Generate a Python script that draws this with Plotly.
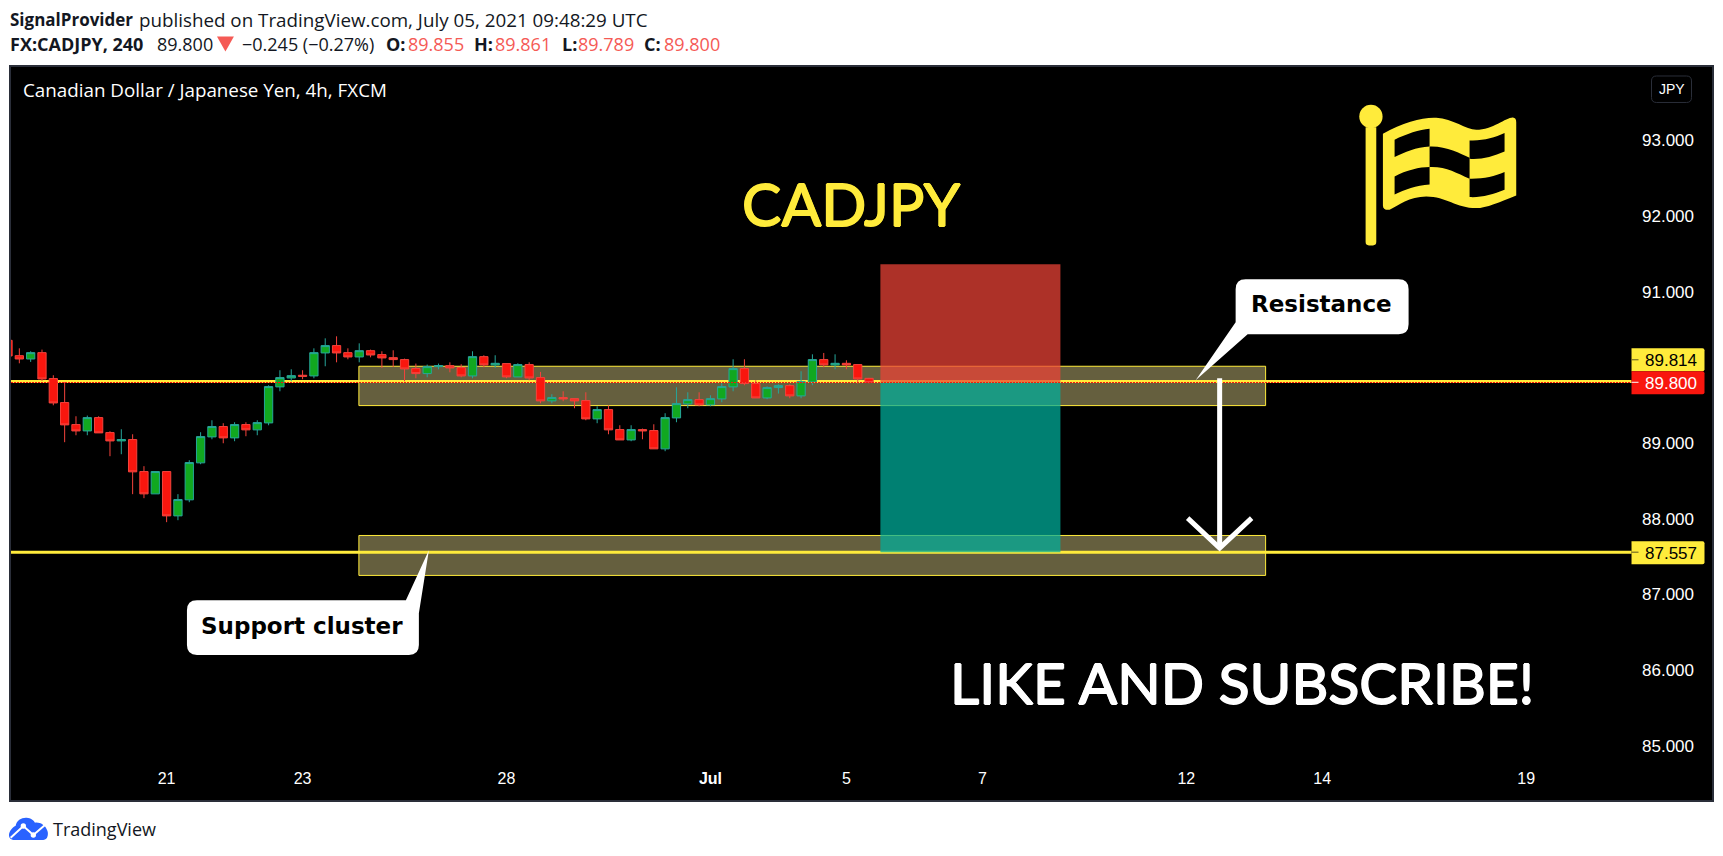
import re
import plotly.graph_objects as go

W, H = 1723, 856
L, R, T, B = 11, 1712.5, 66.5, 800

candle_index = list(range(77))
opens = [90.358,90.155,90.111,90.195,89.852,89.535,89.244,89.160,89.336,89.138,89.028,89.046,88.623,88.328,88.623,88.037,88.249,88.738,89.081,89.218,
         89.068,89.244,89.174,89.266,89.742,89.860,89.896,89.887,90.191,90.288,90.195,90.138,90.221,90.169,90.129,90.103,89.984,89.918,90.010,90.023,
         89.997,89.887,90.142,90.032,90.050,89.874,90.037,89.865,89.557,89.601,89.587,89.561,89.319,89.442,89.178,89.041,89.178,89.165,88.923,89.332,
         89.517,89.574,89.504,89.583,89.742,89.984,89.786,89.596,89.733,89.759,89.623,89.808,90.103,90.032,90.054,90.037,89.855]
highs = [90.380,90.252,90.213,90.235,89.896,89.808,89.354,89.363,89.354,89.156,89.182,89.116,88.694,88.623,88.623,88.324,88.773,89.143,89.301,89.262,
         89.275,89.275,89.301,89.764,89.962,89.975,89.962,90.252,90.384,90.411,90.252,90.318,90.235,90.213,90.226,90.116,90.050,90.037,90.050,90.067,
         90.041,90.213,90.160,90.160,90.050,90.054,90.067,89.940,89.645,89.684,89.587,89.671,89.486,89.499,89.235,89.235,89.191,89.248,89.394,89.737,
         89.671,89.671,89.631,89.790,90.107,90.107,89.830,89.750,89.777,89.777,89.949,90.173,90.191,90.173,90.094,90.037,89.861]
lows = [90.138,90.054,90.072,89.821,89.499,89.011,89.103,89.103,89.134,88.826,88.852,88.324,88.271,88.328,87.954,87.980,88.218,88.720,89.050,88.997,
        89.024,89.090,89.103,89.235,89.684,89.816,89.843,89.856,90.015,90.067,90.107,90.067,90.133,89.993,90.006,89.816,89.856,89.869,89.975,89.935,
        89.869,89.856,90.001,89.993,89.856,89.874,89.830,89.526,89.526,89.552,89.460,89.301,89.262,89.116,89.041,89.024,89.050,88.923,88.892,89.275,
        89.460,89.486,89.486,89.539,89.684,89.764,89.596,89.579,89.654,89.592,89.592,89.764,90.001,89.975,89.975,89.786,89.789]
closes = [90.151,90.111,90.195,89.847,89.530,89.240,89.160,89.336,89.134,89.028,89.046,88.619,88.328,88.623,88.037,88.253,88.742,89.085,89.218,89.068,
          89.244,89.174,89.270,89.746,89.865,89.891,89.882,90.195,90.288,90.191,90.138,90.221,90.164,90.125,90.103,89.979,89.918,90.010,90.023,89.993,
          89.887,90.142,90.032,90.054,89.874,90.037,89.860,89.557,89.601,89.583,89.557,89.319,89.442,89.174,89.041,89.178,89.160,88.923,89.336,89.521,
          89.574,89.504,89.587,89.746,89.984,89.786,89.596,89.733,89.759,89.623,89.812,90.103,90.032,90.054,90.032,89.847,89.800]

x_tick_pos = [14, 26, 44, 62, 74, 86, 104, 116, 134]
x_tick_text = ["21", "23", "28", "<b>Jul</b>", "5", "7", "12", "14", "19"]
y_tick_vals = [85, 86, 87, 88, 89, 91, 92, 93]

resistance_line = 89.814
last_price = 89.800
target_line = 87.557
stop_level = 91.362
band_top = (89.495, 90.015)
band_bottom = (87.250, 87.778)
zone_x = (77.0, 92.89)
band_x = (30.97, 111.0)
x_range = [0.265, 150.4]
y_range = [84.281, 93.971]

YEL = "#FFEB3B"
RED = "#F9160E"


def px(x):
    return (x - L) / (R - L)


def py(y):
    return (B - y) / (B - T)


def ix(x):
    return 1 + (x - 19.33) / 11.333


def path(s, ox=0.0, oy=0.0, k=1.0):
    """Turn a pixel-space path into a paper-space path."""
    count = [0]

    def rep(m):
        v = float(m.group(0))
        i = count[0]
        count[0] += 1
        if i % 2 == 0:
            return f"{px(ox + v / k):.5f}"
        return f"{py(oy + v / k):.5f}"

    return re.sub(r"-?\d+\.?\d*", rep, s)


shapes = []


def paper_shape(d, fill=None, line=None, lw=0):
    shapes.append(dict(type="path", xref="paper", yref="paper", path=d, fillcolor=fill,
                       line=dict(color=line or "rgba(0,0,0,0)", width=lw), layer="above"))


def band(lo, hi):
    shapes.append(dict(type="rect", xref="x", yref="y", x0=band_x[0], x1=band_x[1], y0=lo, y1=hi,
                       fillcolor="#655F3E", line=dict(color=YEL, width=1), layer="below"))


band(*band_top)
band(*band_bottom)
line_end = ix(1632)
for lev in (resistance_line, target_line):
    shapes.append(dict(type="line", xref="x", yref="y", x0=x_range[0], x1=line_end, y0=lev, y1=lev,
                       line=dict(color=YEL, width=3), layer="below"))
# risk / reward zones
shapes.append(dict(type="rect", xref="x", yref="y", x0=zone_x[0], x1=zone_x[1], y0=last_price, y1=stop_level,
                   fillcolor="rgb(237,67,55)", opacity=0.73, line=dict(width=0), layer="above"))
shapes.append(dict(type="rect", xref="x", yref="y", x0=zone_x[0], x1=zone_x[1], y0=target_line, y1=last_price,
                   fillcolor="rgb(0,175,156)", opacity=0.73, line=dict(width=0), layer="above"))
shapes.append(dict(type="line", xref="x", yref="y", x0=x_range[0], x1=line_end, y0=last_price, y1=last_price,
                   line=dict(color=RED, width=1, dash="2px,1px"), layer="above"))

# arrow
paper_shape(path("M1220 378 L1220 546"), line="#FFFFFF", lw=5)
paper_shape(path("M1188 518 L1220 548 L1252 518"), line="#FFFFFF", lw=5)

# callouts
paper_shape(path("M1246 279 L1399 279 Q1409 279 1409 289 L1409 324 Q1409 334 1399 334 L1248 334 L1196 380 L1236 322 L1236 289 Q1236 279 1246 279 Z"), fill="#FFFFFF")
paper_shape(path("M197 600 L406 600 L429 550 L419 613 L419 645 Q419 655 409 655 L197 655 Q187 655 187 645 L187 610 Q187 600 197 600 Z"), fill="#FFFFFF")

# price labels
for y0, y1, col in ((348, 371, YEL), (371, 394, RED), (541, 564, YEL)):
    paper_shape(path(f"M1632 {y0} L1703 {y0} Q1705 {y0} 1705 {y0+2} L1705 {y1-2} Q1705 {y1} 1703 {y1} L1632 {y1} Z"), fill=col)
for yy, col in ((359.5, "#5a5420"), (382, "#FFFFFF"), (552, "#5a5420")):
    paper_shape(path(f"M1632 {yy} L1639 {yy}"), line=col, lw=1)

# JPY button
paper_shape(path("M1657 75.5 L1687 75.5 Q1692 75.5 1692 80.5 L1692 97 Q1692 102 1687 102 L1657 102 Q1652 102 1652 97 L1652 80.5 Q1652 75.5 1657 75.5 Z"), line="#2A2E39", lw=1)

# flag
F = dict(ox=1340, oy=70, k=3)
paper_shape(path("M78 170 L110 170 L110 515 Q110 525 100 525 L88 525 Q78 525 78 515 Z", **F), fill=YEL)
shapes.append(dict(type="circle", xref="paper", yref="paper", x0=px(1340 + 59 / 3), x1=px(1340 + 129 / 3),
                   y0=py(70 + 173 / 3), y1=py(70 + 103 / 3), fillcolor=YEL, line=dict(width=0), layer="above"))
paper_shape(path("M130 190 C190 155 250 140 290 142 C340 145 380 178 410 178 C460 178 500 140 520 141 Q530 142 530 155 L530 375 C480 395 440 413 410 413 C350 413 320 378 260 378 C210 378 175 405 150 418 Q130 420 130 405 Z", **F), fill=YEL)
for hole in (
    "M165 208 C200 190 240 178 270 175 L270 228 C230 230 195 245 165 260 Z",
    "M270 228 C320 226 360 248 390 262 L390 325 C350 308 320 288 270 290 Z",
    "M390 210 C430 212 465 202 495 188 L495 243 C460 258 425 268 390 265 Z",
    "M390 325 C430 326 465 318 495 305 L495 358 C460 372 425 382 390 380 Z",
    "M165 318 C200 300 240 290 270 290 L270 342 C230 344 195 358 165 372 Z",
):
    paper_shape(path(hole, **F), fill="#000000")

# header triangle
paper_shape(path("M217 36 L234 36 L225.5 51 Z"), fill="#F55A55")

# logo
G = dict(ox=0, oy=760, k=3)
paper_shape(path("M27 225 C27 212 40 200 47 197 C50 180 65 172 80 173 C92 173 102 182 105 188 C120 186 135 195 140 208 C147 218 145 240 130 240 L45 240 C33 240 27 235 27 225 Z", **G), fill="#2962FF")
paper_shape(path("M32 233 L70 198 L100 225 L135 195", **G), line="#FFFFFF", lw=2)
for cx, cy in ((70, 198), (100, 225)):
    shapes.append(dict(type="circle", xref="paper", yref="paper", x0=px((cx - 8) / 3), x1=px((cx + 8) / 3),
                       y0=py(760 + (cy + 8) / 3), y1=py(760 + (cy - 8) / 3), fillcolor="#FFFFFF",
                       line=dict(width=0), layer="above"))

# frame
shapes.append(dict(type="rect", xref="paper", yref="paper", x0=px(10), x1=px(1713.5), y0=py(801), y1=py(65.5),
                   line=dict(color="#2A2E39", width=2), layer="above"))

annotations = []


def text(s, x, y, size, color, font, anchor="left", shadow=None):
    f = dict(size=size, color=color, family=font)
    if shadow:
        f["shadow"] = shadow
    annotations.append(dict(text=s, xref="paper", yref="paper", x=px(x), y=py(y), xanchor=anchor, yanchor="middle",
                            showarrow=False, align=anchor, font=f))


INK = "#131722"
PR = "#F55A55"
OS = "Open Sans"
HS = 18
text("<b>SignalProvider</b>", 8, 19, 17, INK, OS)
text("published on TradingView.com, July 05, 2021 09:48:29 UTC", 137, 19, 18.8, INK, OS)
text("<b>FX:CADJPY, 240</b>", 8, 43, HS, INK, OS)
text("89.800", 155, 43, HS, INK, OS)
text("−0.245 (−0.27%)", 240, 43, HS, INK, OS)
for lab, lx, val, vx in (("O:", 384, "89.855", 406), ("H:", 472, "89.861", 493),
                         ("L:", 560, "89.789", 576), ("C:", 642, "89.800", 662)):
    text(f"<b>{lab}</b>", lx, 43, HS, INK, OS)
    text(val, vx, 43, HS, PR, OS)
text("Canadian Dollar / Japanese Yen, 4h, FXCM", 21.5, 90, 18.8, "#FFFFFF", OS)
text("JPY", 1672, 88.5, 14, "#FFFFFF", "Liberation Sans", "center")


def thick(c):
    return f"0.8px 0 0 {c},-0.8px 0 0 {c},0 0.6px 0 {c},0 -0.6px 0 {c}"


text("CADJPY", 852, 203.5, 59, YEL, "Lato", "center", thick(YEL))
text("LIKE AND SUBSCRIBE!", 1242, 682, 57, "#FFFFFF", "Lato", "center", thick("#FFFFFF"))
text("<b>Resistance</b>", 1322, 304, 23, "#000000", "DejaVu Sans", "center")
text("<b>Support cluster</b>", 302, 626, 23, "#000000", "DejaVu Sans", "center")
text("89.814", 1699, 360, 17, "#000000", "Liberation Sans", "right")
text("89.800", 1699, 383, 17, "#FFFFFF", "Liberation Sans", "right")
text("87.557", 1699, 553, 17, "#000000", "Liberation Sans", "right")
text("TradingView", 51, 829, 18, INK, "Open Sans")

fig = go.Figure(go.Candlestick(
    x=candle_index, open=opens, high=highs, low=lows, close=closes, whiskerwidth=0,
    increasing=dict(line=dict(color="#26A69A", width=1), fillcolor="#11A820"),
    decreasing=dict(line=dict(color="#F4433C", width=1), fillcolor=RED),
    hoverinfo="skip", showlegend=False,
))
fig.update_layout(
    width=W, height=H, autosize=False,
    margin=dict(l=L, r=W - R, t=T, b=H - B, pad=0),
    paper_bgcolor="#FFFFFF", plot_bgcolor="#000000",
    boxgap=0.27, boxgroupgap=0,
    showlegend=False, shapes=shapes, annotations=annotations,
    xaxis=dict(range=x_range, rangeslider=dict(visible=False), showgrid=False, zeroline=False, showline=False,
               tickmode="array", tickvals=x_tick_pos, ticktext=x_tick_text, ticks="",
               ticklabelposition="inside", ticklabelstandoff=10,
               tickfont=dict(family="Liberation Sans", size=16, color="#FFFFFF")),
    yaxis=dict(range=y_range, side="right", showgrid=False, zeroline=False, showline=False,
               tickmode="array", tickvals=y_tick_vals, tickformat=".3f", ticks="",
               ticklabelposition="inside", ticklabelstandoff=15,
               tickfont=dict(family="Liberation Sans", size=17, color="#FFFFFF")),
)
fig.write_html("out.html", config=dict(displayModeBar=False),
               post_script="document.body.style.margin='0';document.body.style.overflow='hidden';")
